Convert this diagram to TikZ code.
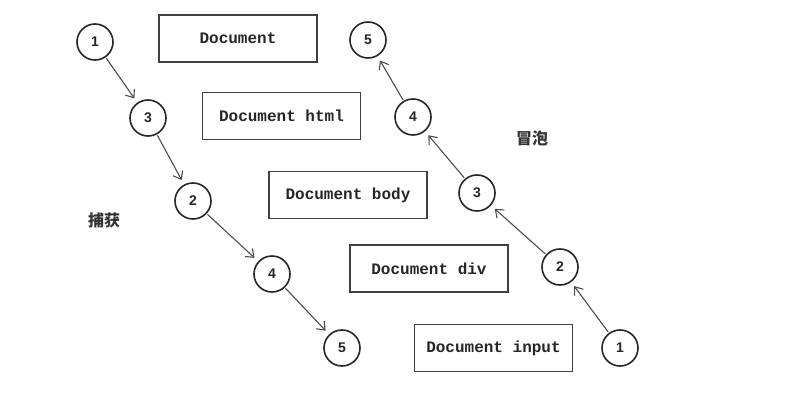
\documentclass[tikz,border=0pt]{standalone}
\usepackage{fontspec}
\setmonofont{Liberation Mono}
\setsansfont{Liberation Sans}
\newfontfamily\cjk{Noto Sans CJK SC}
\usetikzlibrary{arrows.meta}
\begin{document}
\begin{tikzpicture}[x=1pt,y=-1pt,
  docbox/.style={draw=black!75,line width=1.6pt,minimum width=158pt,minimum height=47pt,inner sep=0pt,font=\ttfamily\bfseries\fontsize{16}{16}\selectfont,text=black!85},
  num/.style={circle,draw=black!85,line width=1.6pt,minimum size=36pt,inner sep=0pt,font=\sffamily\bfseries\fontsize{14}{14}\selectfont,text=black!85},
  arr/.style={draw=black!70,line width=1.1pt,shorten <=1pt,shorten >=5pt,-{Straight Barb[length=7pt,width=11pt]}},
  lab/.style={font=\cjk\bfseries\fontsize{16}{16}\selectfont,text=black!80}]
\useasboundingbox (0,0) rectangle (796,409);
% boxes
\node[docbox] (d0) at (238,38.5) {Document};
\node[docbox] (d1) at (281.5,116) {Document html};
\node[docbox] (d2) at (348,195) {Document body};
\node[docbox] (d3) at (429,268.5) {Document div};
\node[docbox] (d4) at (493.5,348) {Document input};
% capture circles
\node[num] (c1) at (95,42) {1};
\node[num] (c3) at (148,118) {3};
\node[num] (c2) at (193,201) {2};
\node[num] (c4) at (272,274) {4};
\node[num] (c5) at (342,348) {5};
% bubble circles
\node[num] (b5) at (368,40) {5};
\node[num] (b4) at (413,117) {4};
\node[num] (b3) at (477,193) {3};
\node[num] (b2) at (560,267) {2};
\node[num] (b1) at (620,348) {1};
% arrows
\draw[arr] (c1) -- (c3);
\draw[arr] (c3) -- (c2);
\draw[arr] (c2) -- (c4);
\draw[arr] (c4) -- (c5);
\draw[arr] (b1) -- (b2);
\draw[arr] (b2) -- (b3);
\draw[arr] (b3) -- (b4);
\draw[arr] (b4) -- (b5);
% labels
\node[lab] (cap) at (104,220) {捕获};
\node[lab] (bub) at (532,138) {冒泡};
\end{tikzpicture}
\end{document}
